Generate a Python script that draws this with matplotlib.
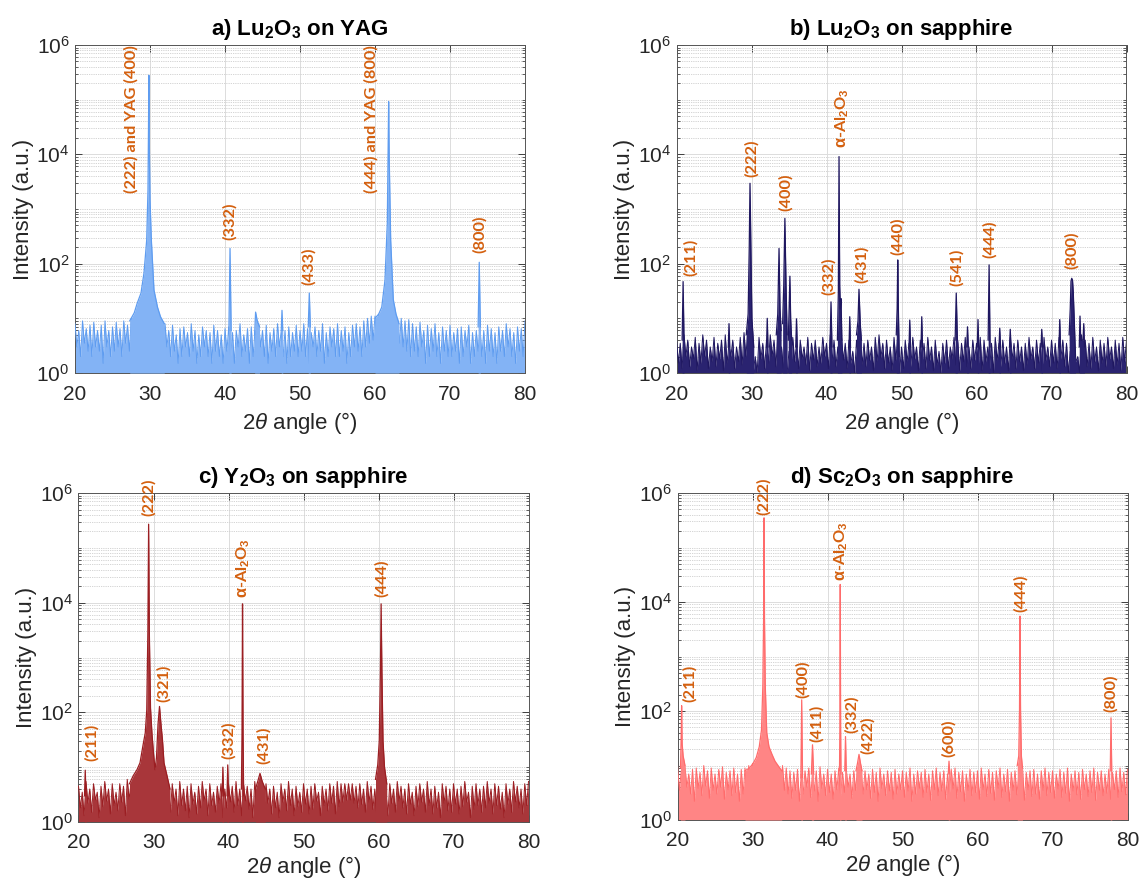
import numpy as np
import matplotlib
matplotlib.use("Agg")
import matplotlib.pyplot as plt
from matplotlib.ticker import LogLocator, NullFormatter, LogFormatterSciNotation, FixedLocator

plt.rcParams['font.family'] = ['Liberation Sans', 'DejaVu Sans']
plt.rcParams['mathtext.fontset'] = 'custom'
plt.rcParams['mathtext.rm'] = 'Liberation Sans'
plt.rcParams['mathtext.it'] = 'Liberation Sans:italic'
plt.rcParams['mathtext.bf'] = 'Liberation Sans:bold'

# ---------------- data ----------------
# noise band: local maxima every 0.5 deg (20.0 ... 80.0) and local minima in between (20.25 ... 79.75)
bg_start, bg_step = 20.0, 0.5

hi_a = [8, 6, 9, 6.5, 7.5, 8.5, 6, 7.5, 9, 6,
        7, 8.5, 6.5, 9, 7.5, 10, 10, 12, 14, 14,
        14, 13, 11, 9, 8, 6, 7.5, 5, 6.5, 7,
        5.5, 8, 6, 5, 7, 6, 5.5, 7.5, 6, 5,
        6.5, 7, 5.5, 6, 8, 5, 6.5, 7, 6, 8,
        6, 7.5, 5.5, 6.5, 8, 6, 6, 7, 5.5, 7.5,
        6, 8, 6.5, 5.5, 7, 6, 8, 5.5, 7, 6.5,
        8, 6, 7, 5.5, 7.5, 8, 7, 9, 10, 11,
        11, 12, 14, 16, 16, 12, 10, 10, 9, 9.5,
        8, 7, 8.5, 6, 7.5, 6.5, 8, 5.5, 7, 6,
        7.5, 5.5, 6.5, 7, 6, 7.5, 5.5, 6, 7, 6,
        7.5, 6.5, 5.5, 7, 6, 8, 6.5, 5.5, 7, 6.5,
        9]
lo_a = [3, 2, 3.5, 2.5, 2, 3, 2.5, 1.5, 3, 2,
        2.5, 3, 2, 3.5, 2.5, 4, 5, 7, 9, 10,
        10, 8, 6, 4, 3, 2, 2.5, 1.5, 2, 3,
        2, 2.5, 1.5, 2, 3, 2, 1.5, 2.5, 2, 1.5,
        2.5, 2, 1.5, 3, 2, 2.5, 1.5, 2, 2, 3,
        2, 1.5, 2.5, 2, 3, 2, 1.5, 2, 2.5, 2,
        2.5, 2, 1.5, 3, 2, 2.5, 1.5, 2, 3, 2,
        2, 2.5, 1.5, 2, 3, 2.5, 2, 3, 3.5, 4,
        5, 6, 8, 9, 6, 4, 3.5, 3, 2.5, 2,
        2.5, 2, 3, 1.5, 2, 2.5, 2, 1.5, 2.5, 2,
        2, 2.5, 1.5, 2, 3, 1.5, 2, 2.5, 2, 1.5,
        2.5, 2, 1.5, 2.5, 2, 3, 2, 1.5, 2.5, 2]

hi_b = [4, 3.5, 5, 4, 3, 4.5, 3.5, 5, 4, 3,
        4.5, 3.5, 4, 5, 3.5, 4, 3, 4.5, 5.5, 6,
        5, 2, 4.5, 3.5, 4, 5, 4, 5, 3, 2,
        2.5, 4.5, 3.5, 4, 3, 4.5, 3.5, 4, 3, 4.5,
        3.5, 5, 4, 3, 4.5, 3.5, 4, 2.5, 4, 5,
        3.5, 4, 3, 4.5, 5, 3.5, 4, 3, 4.5, 5,
        3, 4, 3.5, 4.5, 3, 4, 3.5, 4.5, 3, 4,
        2.5, 3.5, 4, 3, 4.5, 4, 3.5, 4.5, 3, 4,
        3.5, 4.5, 4, 3, 3.5, 4.5, 3.5, 4, 3, 4.5,
        3.5, 4, 3, 3.5, 4.5, 3, 4, 3.5, 4.5, 3,
        4, 3.5, 4.5, 4, 3.5, 2.5, 4, 2, 5, 4,
        3.5, 4.5, 3, 4, 3.5, 4.5, 3, 4, 3.5, 4.5,
        4]
lo_b = [1.5, 1.2, 2, 1.3, 1.8, 1.1, 1.5, 2, 1.2, 1.6,
        1.3, 1.8, 1.1, 1.5, 2, 1.2, 1.6, 1.4, 2, 1.5,
        1.1, 1.0, 1.8, 1.2, 1.5, 2, 1.3, 1.6, 1.2, 1.0,
        1.1, 1.6, 1.2, 1.8, 1.4, 1.1, 1.7, 1.3, 1.5, 2,
        1.2, 1.6, 1.3, 1.0, 1.7, 1.2, 1.5, 1.0, 1.8, 1.4,
        1.3, 1.7, 1.1, 1.6, 1.9, 1.2, 1.5, 1.1, 1.7, 1.0,
        1.2, 1.6, 1.3, 1.8, 1.1, 1.5, 1.2, 1.7, 1.1, 1.4,
        1.0, 1.5, 1.2, 1.8, 1.4, 1.1, 1.6, 1.3, 1.2, 1.7,
        1.4, 1.1, 1.6, 1.2, 1.0, 1.7, 1.3, 1.5, 1.1, 1.8,
        1.2, 1.6, 1.1, 1.4, 1.8, 1.2, 1.5, 1.1, 1.7, 1.3,
        1.5, 1.2, 1.8, 1.3, 1.0, 1.0, 1.6, 1.0, 1.7, 1.3,
        1.2, 1.6, 1.1, 1.5, 1.3, 1.8, 1.2, 1.4, 1.1, 1.6]

hi_c = [4.5, 3.5, 5.5, 4, 5, 3.5, 4.5, 5.5, 4, 5,
        3.5, 5, 4.5, 6, 5, 6, 7, 8, 9, 9,
        9, 8, 8, 6, 4.5, 5, 4, 5.5, 4, 4.5,
        5, 3.5, 4.5, 5.5, 4, 5, 3.5, 4.5, 5, 4,
        5, 4.5, 5.5, 4, 5, 4.5, 4, 5.5, 3.5, 4.5,
        5, 4, 4.5, 3.5, 5, 4, 5.5, 4, 4.5, 3.5,
        5, 4, 4.5, 5, 3.5, 4.5, 4, 5, 4.5, 5.5,
        5, 5, 5, 5, 4.5, 5, 4, 5.5, 4.5, 4,
        5, 4.5, 3.5, 5, 4, 5.5, 4.5, 4, 5, 3.5,
        4.5, 5, 4, 5.5, 4, 4.5, 3.5, 5, 4.5, 4,
        5, 4, 4.5, 5.5, 3.5, 4.5, 5, 4, 4.5, 5.5,
        4, 5, 4.5, 3.5, 5, 4, 5.5, 4.5, 4, 5,
        5.5]
lo_c = [1.8, 1.3, 2.2, 1.5, 2.5, 1.2, 1.9, 2.4, 1.4, 2,
        1.6, 2.3, 1.3, 2.6, 2, 3, 4, 5, 6, 6,
        6, 5, 3.5, 2.5, 1.5, 2.2, 1.3, 2, 1.6, 1.2,
        2.1, 1.4, 1.8, 2.4, 1.3, 2, 1.5, 2.2, 1.2, 1.8,
        2.3, 1.5, 2, 1.3, 2.4, 1.7, 1.2, 2.1, 1.5, 1.9,
        2.2, 1.4, 1.8, 1.2, 2.3, 1.6, 2, 1.3, 1.9, 1.5,
        2.1, 1.4, 1.7, 2.4, 1.3, 2, 1.6, 2.2, 1.4, 1.9,
        2.3, 2.5, 2.5, 2.2, 1.8, 2.1, 1.5, 2.3, 1.7, 1.4,
        2, 1.6, 1.3, 2.2, 1.5, 2.4, 1.8, 1.4, 2.1, 1.3,
        1.9, 2.3, 1.5, 2, 1.4, 1.8, 1.2, 2.2, 1.6, 1.5,
        2.1, 1.4, 1.9, 2.3, 1.2, 1.7, 2, 1.5, 1.8, 2.2,
        1.4, 2, 1.7, 1.2, 2.1, 1.5, 2.3, 1.8, 1.4, 2]

hi_d = [10, 8, 9.5, 7, 8.5, 9, 7.5, 10, 8, 9,
        7, 8.5, 9.5, 7.5, 8, 9, 7, 8.5, 9, 10,
        11, 12, 12, 12, 12, 11, 10, 9, 10, 9,
        8, 7.5, 8.5, 7, 8, 9, 7.5, 8, 9.5, 7,
        8.5, 7, 8, 9, 7.5, 8.5, 7, 8, 9, 7.5,
        8, 7, 8.5, 7.5, 9, 7, 8, 7.5, 8.5, 7,
        8, 7.5, 9, 7, 8, 7.5, 8.5, 7, 8, 9,
        7.5, 8, 7, 8.5, 9, 7.5, 8, 7, 8.5, 7.5,
        8, 9, 7, 8.5, 7.5, 8, 9, 7, 8.5, 7.5,
        8, 7, 9, 7.5, 8, 8.5, 7, 8, 9, 7.5,
        8, 7, 8.5, 7.5, 9, 7, 8, 7.5, 8.5, 7,
        8, 9, 7.5, 8, 7, 8.5, 7.5, 8, 9, 7.5,
        8.5]
lo_d = [3.5, 2.5, 4, 3, 2.2, 3.8, 2.8, 4.2, 2.5, 3.5,
        3, 4, 2.4, 3.6, 2.8, 3.2, 2.2, 3, 3.5, 4,
        6, 7, 7, 7, 6.5, 6, 5, 4, 3.5, 3,
        2.5, 3.5, 2.2, 3, 4, 2.6, 3.4, 2.2, 3.8, 2.8,
        3.2, 2.4, 3.6, 2.8, 3.2, 4, 2.5, 3.5, 2.2, 3,
        3.6, 2.5, 3.2, 2.2, 3.8, 2.8, 3.4, 2.4, 3, 3.6,
        2.6, 3.4, 2.2, 3, 3.8, 2.6, 3.2, 2.3, 3.6, 2.8,
        3.4, 2.4, 3, 3.7, 2.5, 3.3, 2.2, 3.5, 2.8, 3.2,
        2.4, 3.6, 2.7, 3.1, 2.3, 3.8, 2.6, 3.3, 2.2, 3.5,
        2.9, 3.4, 2.3, 3.6, 2.7, 3, 2.4, 3.5, 2.8, 3.2,
        2.5, 3.7, 2.6, 3.1, 2.2, 3.4, 2.9, 2.4, 3.6, 2.7,
        3.2, 2.3, 3.5, 2.8, 3.1, 2.4, 3.6, 2.6, 3.3, 2.9]

# peak profiles: (angles, intensities)
peaks_a = [
    ([27.3, 27.9, 28.3, 28.8, 29.2, 29.56, 29.73, 29.8, 29.85, 29.9, 30.0, 30.18, 30.53, 31.0, 31.4, 31.9],
     [9, 12.6, 19, 29, 68, 270, 2200, 30000, 280000, 20000, 1500, 270, 33, 16, 10.7, 8]),
    ([40.52, 40.67, 40.82], [6, 190, 6]),
    ([43.95, 44.08, 44.3, 44.6], [5, 13, 9, 7]),
    ([47.5, 47.6, 47.7], [6, 14, 6]),
    ([51.1, 51.24, 51.38], [7, 29, 7]),
    ([60.0, 60.5, 60.9, 61.33, 61.64, 61.74, 61.82, 61.9, 62.09, 62.44, 62.8, 63.2],
     [10, 12, 16, 50, 550, 9000, 92000, 8000, 270, 22, 12, 8]),
    ([73.75, 73.9, 74.05], [7, 106, 7]),
]

peaks_b = [
    ([20.75, 20.88, 21.0], [4, 47, 4]),
    ([26.9, 27.0, 27.1], [3, 8, 3]),
    ([29.3, 29.55, 29.7, 29.8, 29.9, 30.05, 30.3], [5, 12, 200, 2950, 300, 10, 3]),
    ([32.0, 32.1, 32.2], [3, 10, 3]),
    ([33.3, 33.5, 33.67, 33.8, 33.95], [5, 12, 190, 15, 6]),
    ([34.15, 34.3, 34.45, 34.6, 34.75], [8, 40, 675, 40, 5]),
    ([34.9, 35.0, 35.12, 35.22, 35.35], [4, 12, 59, 10, 4]),
    ([35.9, 36.0, 36.1], [3, 9.8, 3]),
    ([40.47, 40.6, 40.73], [3, 20, 3]),
    ([41.45, 41.58, 41.67, 41.76, 41.85, 41.93, 42.05], [4, 30, 9100, 40, 15, 23, 4]),
    ([43.0, 43.1, 43.2], [3, 10.7, 3]),
    ([44.0, 44.2, 44.33, 44.5, 44.65], [5, 9, 34, 8, 4]),
    ([49.3, 49.42, 49.5, 49.58, 49.7], [5, 15, 117, 15, 2]),
    ([51.0, 51.1, 51.2], [3, 9.3, 3]),
    ([52.6, 52.7, 52.8], [3, 10.7, 3]),
    ([57.15, 57.3, 57.45], [4, 29, 4]),
    ([58.7, 58.8, 58.9], [3, 7, 3]),
    ([60.1, 60.2, 60.3], [3, 9.5, 3]),
    ([61.55, 61.68, 61.81], [4, 95, 3]),
    ([63.0, 63.1, 63.2], [3, 6.6, 3]),
    ([64.4, 64.5, 64.6], [3, 6.3, 3]),
    ([68.6, 68.7, 68.8], [3, 6.3, 3]),
    ([71.0, 71.1, 71.2], [3, 9.5, 3]),
    ([72.35, 72.5, 72.6, 72.7, 72.8, 72.9, 73.05, 73.2], [5, 15, 48, 54, 50, 30, 8, 2]),
    ([73.7, 73.8, 73.9, 74.2, 74.3, 74.4], [3, 11, 4, 4, 8, 3]),
]

peaks_c = [
    ([20.8, 20.9, 21.0], [3, 8.8, 3]),
    ([26.8, 27.3, 27.8, 28.2, 28.6, 28.9, 29.1, 29.25, 29.35, 29.45, 29.6, 29.8, 30.0, 30.2,
      30.4, 30.6, 30.8, 31.0, 31.2, 31.4, 31.8, 32.2],
     [5, 7, 9, 12, 25, 42, 110, 3000, 270000, 2500, 120, 40, 18, 9, 15, 60, 128, 60, 31, 12, 7, 4]),
    ([39.15, 39.25, 39.35], [3, 10, 3]),
    ([39.8, 39.9, 40.0], [3, 11, 3]),
    ([41.72, 41.8, 41.87, 41.94, 42.02], [4, 40, 9500, 40, 3]),
    ([43.6, 43.9, 44.2, 44.5, 44.9], [4, 5.5, 7.7, 5.5, 4]),
    ([59.6, 59.9, 60.1, 60.25, 60.35, 60.45, 60.6, 60.8, 61.1], [6, 11, 30, 500, 9500, 600, 30, 10, 5]),
]

peaks_d = [
    ([20.4, 20.48, 20.55, 20.62, 20.75, 21.0], [9, 30, 125, 25, 15, 10]),
    ([29.0, 29.6, 30.1, 30.5, 30.9, 31.2, 31.38, 31.48, 31.54, 31.6, 31.7, 31.9, 32.2, 32.6, 33.0, 33.4, 33.9],
     [8, 9, 11, 14, 22, 45, 300, 5000, 350000, 5000, 300, 40, 22, 16, 12, 10, 8]),
    ([36.45, 36.56, 36.67], [6, 160, 6]),
    ([37.85, 38.0, 38.15], [7, 24, 7]),
    ([41.6, 41.65, 41.7, 41.75, 41.8], [8, 50, 21000, 50, 7]),
    ([42.3, 42.4, 42.5], [8, 34, 8]),
    ([43.8, 44.0, 44.2, 44.4, 44.6], [8, 11, 16, 11, 8]),
    ([56.1, 56.2, 56.3], [7, 12, 7]),
    ([65.3, 65.5, 65.6, 65.67, 65.74, 65.85, 66.0], [10, 15, 100, 5500, 100, 15, 9]),
    ([77.7, 77.8, 77.9], [8, 75, 8]),
]

ALO = r'$\mathbf{\alpha}$-Al$_\mathbf{2}$O$_\mathbf{3}$'
# annotations: (text, angle, log10 of label bottom)
labels_a = [("(222) and YAG (400)", 27.45, 3.29), ("(332)", 40.6, 2.43), ("(433)", 51.2, 1.61),
            ("(444) and YAG (800)", 59.56, 3.29), ("(800)", 73.9, 2.19)]
labels_b = [("(211)", 21.9, 1.78), ("(222)", 30.0, 3.59), ("(400)", 34.6, 2.97), ("(332)", 40.3, 1.43),
            (ALO, 42.1, 4.11), ("(431)", 44.65, 1.64), ("(440)", 49.55, 2.15), ("(541)", 57.4, 1.59),
            ("(444)", 61.75, 2.10), ("(800)", 72.75, 1.90)]
labels_c = [("(211)", 21.7, 1.12), ("(222)", 29.35, 5.58), ("(321)", 31.3, 2.19), ("(332)", 40.0, 1.15),
            (ALO, 42.0, 4.08), ("(431)", 44.65, 1.05), ("(444)", 60.4, 4.10)]
labels_d = [("(211)", 21.6, 2.17), ("(222)", 31.45, 5.59), ("(400)", 36.75, 2.23), ("(411)", 38.6, 1.43),
            (ALO, 41.85, 4.39), ("(332)", 43.2, 1.60), ("(422)", 45.4, 1.22), ("(600)", 56.2, 1.16),
            ("(444)", 65.75, 3.81), ("(800)", 77.75, 1.98)]

titles = [r'a) Lu$_\mathbf{2}$O$_\mathbf{3}$ on YAG', r'b) Lu$_\mathbf{2}$O$_\mathbf{3}$ on sapphire',
          r'c) Y$_\mathbf{2}$O$_\mathbf{3}$ on sapphire', r'd) Sc$_\mathbf{2}$O$_\mathbf{3}$ on sapphire']
line_colors = ['#5e9cf0', '#1f1760', '#9b1e22', '#ff6b6b']
fill_colors = ['#83b3f5', '#2a2370', '#a8363a', '#ff8585']
label_color = '#d4600f'

# ---------------- figure ----------------
fig = plt.figure(figsize=(11.41, 8.82), dpi=100)
W, H = 1141.0, 882.0
boxes = [(75, 45, 525, 373), (676.5, 45, 1126.5, 373), (78.5, 493, 528.5, 822), (677.5, 493, 1127.5, 820)]

panels = [(hi_a, lo_a, peaks_a, labels_a), (hi_b, lo_b, peaks_b, labels_b),
          (hi_c, lo_c, peaks_c, labels_c), (hi_d, lo_d, peaks_d, labels_d)]

for i, (hi, lo, peaks, labels) in enumerate(panels):
    l, t, r, b = boxes[i]
    ax = fig.add_axes([l / W, 1 - b / H, (r - l) / W, (b - t) / H])
    lc, fc = line_colors[i], fill_colors[i]
    # interleave maxima and minima into one noisy trace
    tx, ty = [], []
    for k in range(len(hi)):
        tx.append(bg_start + bg_step * k)
        ty.append(hi[k])
        if k < len(lo):
            tx.append(bg_start + bg_step * (k + 0.5))
            ty.append(lo[k])
    ax.fill_between(tx, 1, ty, color=fc, lw=0, zorder=2)
    ax.plot(tx, ty, color=lc, lw=0.7, zorder=3)
    for px, py in peaks:
        ax.fill_between(px, 1, py, color=fc, lw=0, zorder=3)
        ax.plot(px, py, color=lc, lw=0.9, zorder=4)

    ax.set_yscale('log')
    ax.set_xlim(20, 80)
    ax.set_ylim(1, 1e6)
    ax.xaxis.set_major_locator(FixedLocator([20, 30, 40, 50, 60, 70, 80]))
    ax.yaxis.set_major_locator(FixedLocator([1, 1e2, 1e4, 1e6]))
    ax.yaxis.set_major_formatter(LogFormatterSciNotation(base=10))
    ax.yaxis.set_minor_locator(LogLocator(base=10, subs=np.arange(1, 10), numticks=100))
    ax.yaxis.set_minor_formatter(NullFormatter())
    ax.set_axisbelow(True)
    ax.grid(True, which='major', color='#dcdcdc', lw=0.7, zorder=0)
    ax.grid(True, which='minor', axis='y', color='#cfcfcf', lw=0.6, ls=(0, (1.5, 1.2)), zorder=0)
    ax.tick_params(which='both', direction='in', top=True, right=True, colors='#262626',
                   labelsize=15, labelcolor='#262626')
    ax.tick_params(which='major', length=5, width=0.6)
    ax.tick_params(which='minor', length=2.5, width=0.5)
    ax.tick_params(axis='x', pad=9 if i < 2 else 8)
    ax.tick_params(axis='y', pad=4)
    for s in ax.spines.values():
        s.set_color('#555555')
        s.set_linewidth(0.7)
    ax.set_xlabel(r'2$\mathit{\theta}$ angle (°)', fontsize=16, color='#262626',
                  labelpad=4 if i < 2 else 1)
    ax.set_ylabel('Intensity (a.u.)', fontsize=16, color='#262626', labelpad=2)
    ax.set_title(titles[i], fontsize=16, fontweight='bold', pad=7)

    for txt, xa, ly in labels:
        ax.text(xa, 10 ** ly, txt, rotation=90, ha='center', va='bottom', color=label_color,
                fontsize=11.8, fontweight='bold', family=['Liberation Sans Narrow', 'Lato'], zorder=6)

fig.savefig('out.png', dpi=100)
